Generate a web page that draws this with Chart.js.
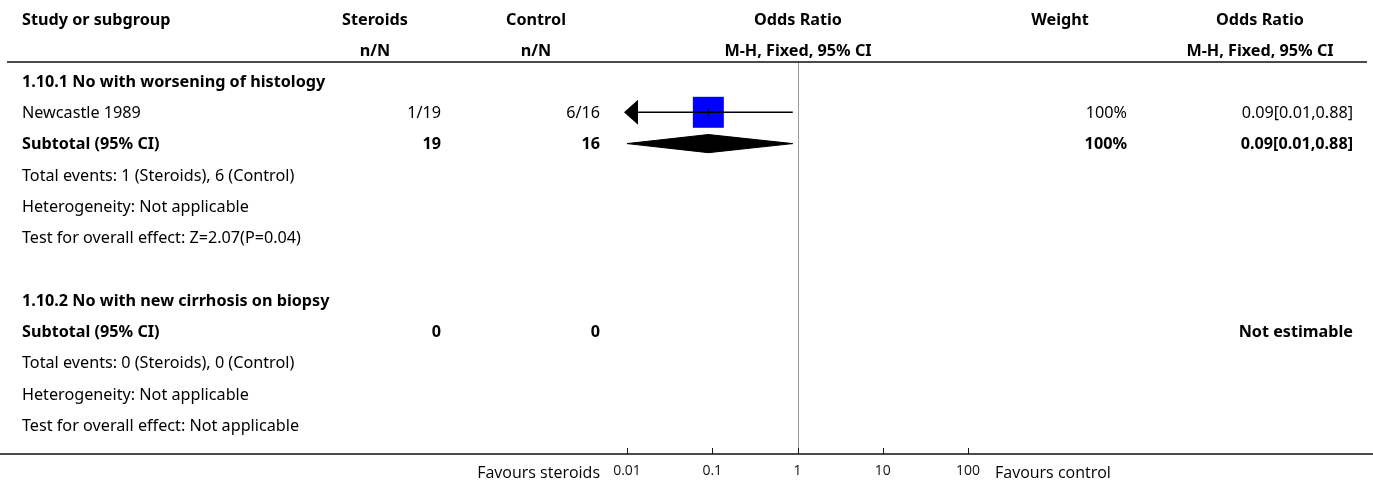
<!DOCTYPE html>
<html>
<head>
<meta charset="utf-8">
<script src="https://cdn.jsdelivr.net/npm/chart.js@4.4.0/dist/chart.umd.min.js"></script>
<style>
  html, body { margin: 0; padding: 0; background: #fff; }
</style>
</head>
<body>
<canvas id="forest" width="1373" height="486"></canvas>
<script>
// Forest plot data, one entry per table row
const rowLabels = [
  '1.10.1 No with worsening of histology',
  'Newcastle 1989',
  'Subtotal (95% CI)',
  'Total events: 1 (Steroids), 6 (Control)',
  'Heterogeneity: Not applicable',
  'Test for overall effect: Z=2.07(P=0.04)',
  '',
  '1.10.2 No with new cirrhosis on biopsy',
  'Subtotal (95% CI)',
  'Total events: 0 (Steroids), 0 (Control)',
  'Heterogeneity: Not applicable',
  'Test for overall effect: Not applicable'
];
const rowKinds = ['group', 'study', 'subtotal', 'note', 'note', 'note', 'blank', 'group', 'subtotal', 'note', 'note', 'note'];
const steroidsText = ['', '1/19', '19', '', '', '', '', '', '0', '', '', ''];
const controlText = ['', '6/16', '16', '', '', '', '', '', '0', '', '', ''];
const weightText = ['', '100%', '100%', '', '', '', '', '', '', '', '', ''];
const effectText = ['', '0.09[0.01,0.88]', '0.09[0.01,0.88]', '', '', '', '', '', 'Not estimable', '', '', ''];

// studies: row index, odds ratio, 95% CI, weight %
const studyRows = [1];
const studyOR = [0.09];
const studyLow = [0.01];
const studyHigh = [0.88];
const studyWeight = [100];

// pooled estimates
const subtotalRows = [2];
const subtotalOR = [0.09];
const subtotalLow = [0.01];
const subtotalHigh = [0.88];

const xTicks = [0.01, 0.1, 1, 10, 100];
const headerTop = ['Study or subgroup', 'Steroids', 'Control', 'Odds Ratio', 'Weight', 'Odds Ratio'];
const headerSub = ['', 'n/N', 'n/N', 'M-H, Fixed, 95% CI', '', 'M-H, Fixed, 95% CI'];
const favours = ['Favours steroids', 'Favours control'];

// column layout (header centre, value anchor)
const cols = [
  { head: 22, headAlign: 'left', x: 22, align: 'left' },
  { head: 375, headAlign: 'center', x: 441, align: 'right' },
  { head: 536, headAlign: 'center', x: 600, align: 'right' },
  { head: 798, headAlign: 'center' },
  { head: 1060, headAlign: 'center', x: 1127, align: 'right' },
  { head: 1260, headAlign: 'center', x: 1353, align: 'right' }
];
const FONT = 'Noto Sans';
const FS = 16.2;
const DIAMOND_H = 0.29;

function txt(ctx, s, x, y, align, bold, size, family) {
  ctx.font = (bold ? 'bold ' : '') + size + 'px "' + (family || FONT) + '"';
  ctx.textAlign = align;
  ctx.textBaseline = 'middle';
  ctx.fillStyle = '#000';
  ctx.fillText(s, x, y);
}

const forestPlugin = {
  id: 'forestTable',
  beforeDatasetsDraw(chart) {
    const { ctx, chartArea, scales: { x } } = chart;
    const px = Math.round(x.getPixelForValue(1)) + 0.5;
    ctx.save();
    ctx.strokeStyle = '#9a9a9a';
    ctx.lineWidth = 1;
    ctx.beginPath();
    ctx.moveTo(px, chartArea.top);
    ctx.lineTo(px, chartArea.bottom);
    ctx.stroke();
    ctx.restore();
  },
  afterDatasetsDraw(chart) {
    // arrows where the CI runs off the axis
    const { ctx, scales: { x, y } } = chart;
    ctx.save();
    ctx.fillStyle = '#000';
    studyRows.forEach((r, i) => {
      const py = y.getPixelForValue(r);
      if (studyLow[i] <= x.min) {
        const tip = x.getPixelForValue(x.min) - 3;
        ctx.beginPath();
        ctx.moveTo(tip, py);
        ctx.lineTo(tip + 14, py - 12.5);
        ctx.lineTo(tip + 14, py + 12.5);
        ctx.closePath();
        ctx.fill();
      }
      if (studyHigh[i] >= x.max) {
        const tip = x.getPixelForValue(x.max) + 3;
        ctx.beginPath();
        ctx.moveTo(tip, py);
        ctx.lineTo(tip - 14, py - 12.5);
        ctx.lineTo(tip - 14, py + 12.5);
        ctx.closePath();
        ctx.fill();
      }
    });
    ctx.restore();
  },
  afterDraw(chart) {
    const { ctx, chartArea, scales: { x, y }, width } = chart;
    ctx.save();
    // header + bottom rules
    ctx.strokeStyle = '#111';
    ctx.lineWidth = 1.5;
    ctx.beginPath();
    ctx.moveTo(7, chartArea.top);
    ctx.lineTo(1367, chartArea.top);
    ctx.moveTo(0, chartArea.bottom);
    ctx.lineTo(width, chartArea.bottom);
    ctx.stroke();
    // axis ticks pointing up
    ctx.lineWidth = 1;
    ctx.beginPath();
    xTicks.forEach(v => {
      const px = Math.round(x.getPixelForValue(v)) + 0.5;
      ctx.moveTo(px, chartArea.bottom);
      ctx.lineTo(px, chartArea.bottom - 6);
    });
    ctx.stroke();

    // headers
    const h1 = y.getPixelForValue(-2) + 2;
    const h2 = y.getPixelForValue(-1) + 1.5;
    cols.forEach((c, i) => {
      txt(ctx, headerTop[i], c.head, h1, c.headAlign, true, FS);
      if (headerSub[i]) txt(ctx, headerSub[i], c.head, h2, c.headAlign, true, FS);
    });

    // table rows
    rowLabels.forEach((lab, r) => {
      const py = y.getPixelForValue(r) + 1;
      const bold = rowKinds[r] === 'group' || rowKinds[r] === 'subtotal';
      const valBold = rowKinds[r] === 'subtotal';
      if (lab) txt(ctx, lab, cols[0].x, py, 'left', bold, FS);
      if (steroidsText[r]) txt(ctx, steroidsText[r], cols[1].x, py, 'right', valBold, FS);
      if (controlText[r]) txt(ctx, controlText[r], cols[2].x, py, 'right', valBold, FS);
      if (weightText[r]) txt(ctx, weightText[r], cols[4].x, py, 'right', valBold, FS);
      if (effectText[r]) txt(ctx, effectText[r], cols[5].x, py, 'right', valBold, FS);
    });

    // favours labels
    const fy = chartArea.bottom + 19;
    txt(ctx, favours[0], 600, fy, 'right', false, 16, 'Open Sans');
    txt(ctx, favours[1], 995, fy, 'left', false, 16, 'Open Sans');
    ctx.restore();
  }
};

const datasets = [];
// study squares (size from weight)
datasets.push({
  data: studyRows.map((r, i) => ({ x: studyOR[i], y: r })),
  pointStyle: 'rect',
  pointRadius: studyWeight.map(w => 21.9 * Math.sqrt(w / 100)),
  backgroundColor: '#0000ff',
  borderWidth: 0,
  order: 5
});
// CI lines
studyRows.forEach((r, i) => {
  datasets.push({
    data: [{ x: Math.max(studyLow[i], 0.01), y: r }, { x: studyHigh[i], y: r }],
    showLine: true,
    borderColor: '#000',
    borderWidth: 1.5,
    pointRadius: 0,
    order: 4
  });
});
// centre tick of each estimate
datasets.push({
  data: studyRows.map((r, i) => ({ x: studyOR[i], y: r })),
  pointStyle: 'line',
  rotation: 90,
  pointRadius: 4.5,
  borderColor: '#000',
  borderWidth: 1,
  order: 3
});
// pooled diamonds
subtotalRows.forEach((r, i) => {
  datasets.push({
    data: [
      { x: subtotalLow[i], y: r },
      { x: subtotalOR[i], y: r - DIAMOND_H },
      { x: subtotalHigh[i], y: r },
      { x: subtotalOR[i], y: r + DIAMOND_H },
      { x: subtotalLow[i], y: r }
    ],
    showLine: true,
    borderColor: '#000',
    borderWidth: 1,
    backgroundColor: '#000',
    fill: 'shape',
    pointRadius: 0,
    order: 4
  });
});

new Chart(document.getElementById('forest'), {
  type: 'scatter',
  data: { datasets },
  options: {
    responsive: false,
    animation: false,
    events: [],
    layout: { padding: { left: 627, right: 405, top: 62, bottom: 0 } },
    plugins: { legend: { display: false }, tooltip: { enabled: false } },
    scales: {
      x: {
        type: 'logarithmic',
        min: 0.01,
        max: 100,
        afterBuildTicks: s => { s.ticks = xTicks.map(v => ({ value: v })); },
        afterFit: s => { s.height = 32; },
        border: { display: false },
        grid: { display: false },
        ticks: {
          callback: v => String(v),
          font: { family: 'Open Sans', size: 14 },
          color: '#111',
          padding: 1,
          maxRotation: 0,
          autoSkip: false
        }
      },
      y: { type: 'linear', reverse: true, min: -0.607, max: 11.917, display: false }
    }
  },
  plugins: [forestPlugin]
});
</script>
</body>
</html>
